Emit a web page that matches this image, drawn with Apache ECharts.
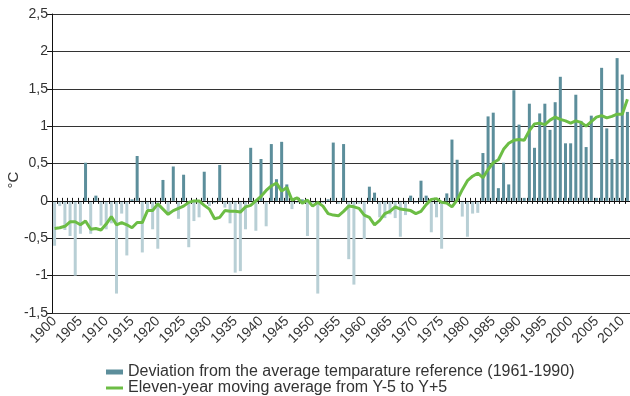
<!DOCTYPE html>
<html><head><meta charset="utf-8">
<script src="https://cdn.jsdelivr.net/npm/echarts/dist/echarts.min.js"></script>
<style>html,body{margin:0;padding:0;background:#fff}#c{width:630px;height:396px}</style>
</head><body><div id="c"></div>
<script>
const FONT = '"Liberation Sans", Arial, Helvetica, sans-serif';
const years = [];
for (let y = 1900; y <= 2011; y++) years.push(String(y));

const deviation = [
  -0.60,-0.07,-0.39,-0.47,-1.00,-0.44,0.51,-0.44,0.07,-0.33,
  -0.38,-0.30,-1.24,-0.17,-0.73,0.02,0.60,-0.69,-0.11,-0.38,
  -0.64,0.28,-0.19,0.46,-0.24,0.35,-0.62,-0.27,-0.22,0.39,
  -0.07,-0.03,0.48,-0.09,-0.30,-0.96,-0.94,-0.38,0.71,-0.40,
  0.56,-0.34,0.76,0.29,0.79,0.22,-0.11,-0.03,0.02,-0.47,
  -0.03,-1.24,-0.03,0.02,0.78,-0.04,0.76,-0.78,-1.12,-0.04,
  -0.51,0.19,0.11,-0.22,-0.23,-0.18,-0.23,-0.48,-0.19,0.07,
  -0.03,0.27,0.07,-0.42,-0.22,-0.64,0.10,0.82,0.55,-0.21,
  -0.48,-0.17,-0.16,0.64,1.13,1.18,0.17,0.51,0.22,1.48,
  1.02,0.04,1.30,0.71,1.17,1.30,0.95,1.32,1.66,0.77,
  0.77,1.42,1.07,0.72,1.14,0.04,1.78,0.97,0.56,1.91,
  1.69,1.19
];

const movingAverage = [
  -0.37,-0.36,-0.34,-0.28,-0.28,-0.32,-0.27,-0.38,-0.37,-0.39,
  -0.31,-0.21,-0.32,-0.29,-0.32,-0.36,-0.29,-0.29,-0.13,-0.13,
  -0.04,-0.11,-0.18,-0.13,-0.10,-0.07,-0.02,0.00,0.00,-0.06,
  -0.11,-0.24,-0.22,-0.13,-0.14,-0.14,-0.15,-0.08,-0.06,0.00,
  0.06,0.14,0.20,0.24,0.13,0.18,0.01,0.04,-0.03,0.01,
  -0.07,-0.02,-0.07,-0.17,-0.19,-0.20,-0.14,-0.07,-0.08,-0.10,
  -0.19,-0.22,-0.32,-0.26,-0.17,-0.14,-0.08,-0.11,-0.12,-0.13,
  -0.17,-0.14,-0.05,0.02,0.03,-0.02,-0.03,-0.08,0.01,0.15,
  0.27,0.33,0.37,0.31,0.42,0.51,0.55,0.69,0.77,0.81,
  0.82,0.81,0.94,1.03,1.04,1.02,1.08,1.12,1.09,1.07,
  1.04,1.07,1.05,1.00,1.06,1.12,1.14,1.11,1.13,1.16,
  1.16,1.36
];

const barName = 'Deviation from the average temparature reference (1961-1990)';
const lineName = 'Eleven-year moving average from Y-5 to Y+5';
const yMin = -1.5, yMax = 2.5, yStep = 0.5;
const POS = '#5c8e9b', NEG = '#b8cfd5', GREEN = '#6cbd45';

const legendBase = {
  orient: 'vertical', left: 101, itemGap: 0, itemWidth: 17,
  textStyle: {fontSize: 16, color: '#333', fontFamily: FONT}
};

const chart = echarts.init(document.getElementById('c'), null, {renderer: 'canvas'});
chart.setOption({
  animation: false,
  textStyle: {fontFamily: FONT},
  grid: {left: 52, right: 0, top: 14, bottom: 83},
  legend: [
    Object.assign({}, legendBase, {top: 359, itemHeight: 5,
      data: [{name: barName, icon: 'rect', itemStyle: {color: POS}}]}),
    Object.assign({}, legendBase, {top: 375, itemHeight: 3,
      data: [{name: lineName, icon: 'rect', itemStyle: {color: GREEN}}]})
  ],
  xAxis: [
    {
      type: 'category', data: years, position: 'bottom',
      axisLine: {show: false, onZero: false}, axisTick: {show: false},
      axisLabel: {interval: 4, rotate: 45, fontSize: 14, color: '#333', margin: 6, fontFamily: FONT},
      splitLine: {show: false}
    },
    {
      type: 'category', data: years, position: 'bottom', z: 5,
      axisLine: {show: true, onZero: true, onZeroAxisIndex: 0, lineStyle: {color: '#111', width: 1}},
      axisTick: {show: true, interval: 0, length: 3, lineStyle: {color: '#111'}},
      axisLabel: {show: false}
    },
    {
      type: 'category', data: years, position: 'bottom', z: 5,
      axisLine: {show: false, onZero: true, onZeroAxisIndex: 0},
      axisTick: {show: true, inside: true, interval: 0, length: 3, lineStyle: {color: '#111'}},
      axisLabel: {show: false}
    }
  ],
  yAxis: {
    type: 'value', min: yMin, max: yMax, interval: yStep,
    axisLine: {show: true, lineStyle: {color: '#111'}},
    axisTick: {show: true, length: 5, lineStyle: {color: '#111'}},
    axisLabel: {fontSize: 14, color: '#333', margin: 4, fontFamily: FONT,
      formatter: v => String(v).replace('.', ',')},
    splitLine: {show: true, lineStyle: {color: '#333', width: 1}}
  },
  graphic: [{
    type: 'text', x: 14, y: 180, rotation: Math.PI / 2,
    style: {text: '°C', font: '15px ' + FONT, fill: '#333', align: 'center', verticalAlign: 'middle'}
  }],
  series: [
    {
      name: barName, type: 'bar', data: deviation, barWidth: 3, z: 2,
      itemStyle: {color: p => (p.value < 0 ? NEG : POS)}
    },
    {
      name: lineName, type: 'line', data: movingAverage, symbol: 'none', z: 6,
      lineStyle: {color: GREEN, width: 3}, itemStyle: {color: GREEN}
    }
  ]
});
</script></body></html>
